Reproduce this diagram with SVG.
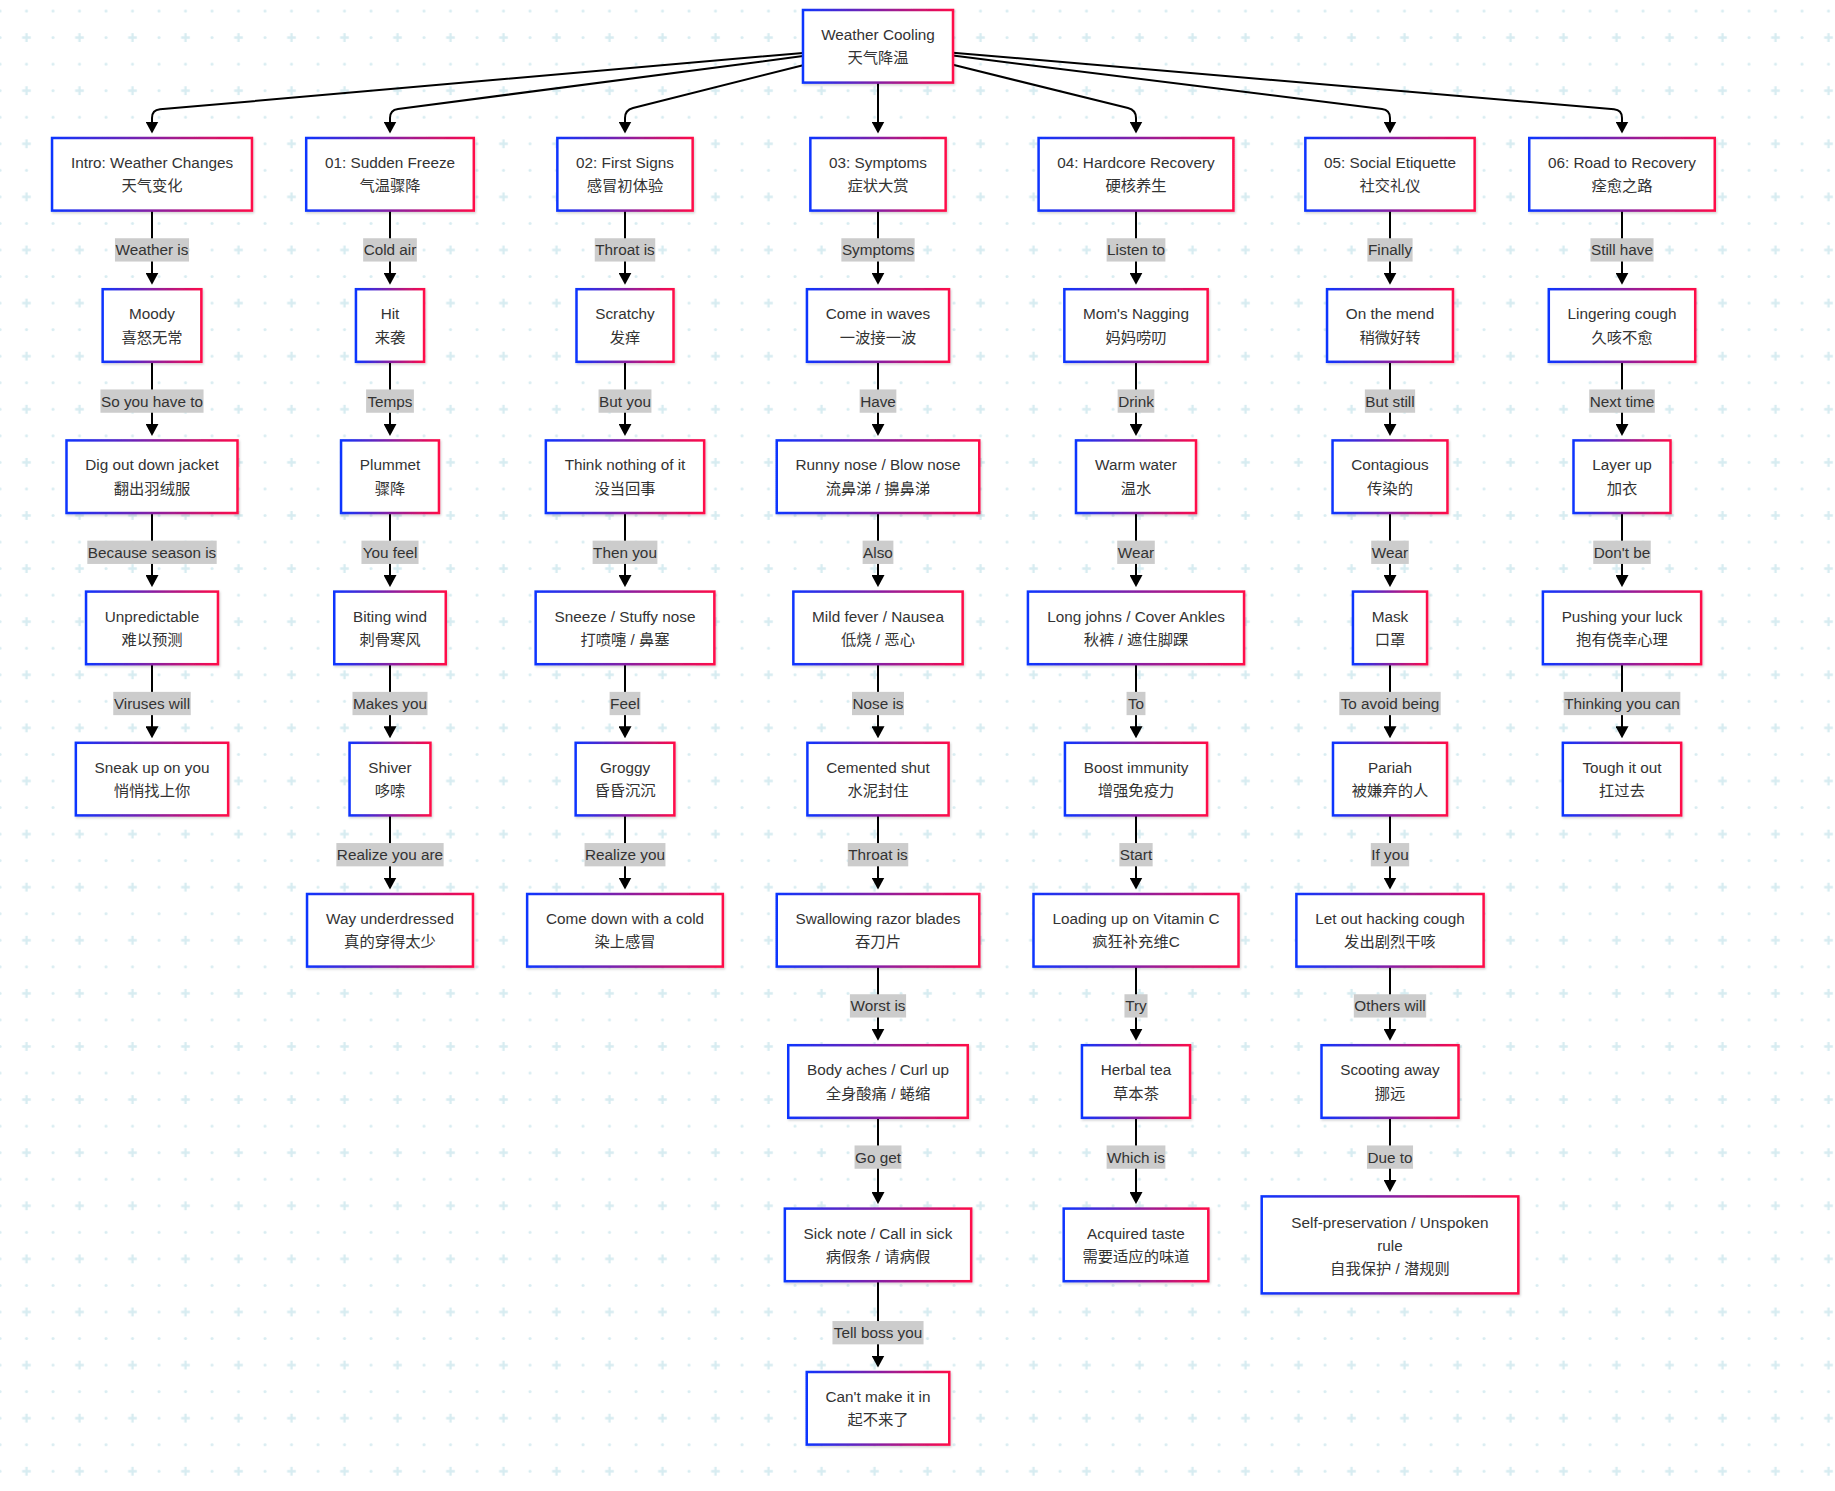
<svg xmlns="http://www.w3.org/2000/svg" width="1835" height="1491" viewBox="0 0 1835 1491">
<defs>
<style>
.n rect{fill:#fff;stroke:url(#g);stroke-width:2.5;filter:url(#sh)}
.n text,.l text{font-family:"Liberation Sans",Arial,"Noto Sans CJK SC",sans-serif;font-size:15.3px;fill:#333;text-anchor:middle}
.l rect{fill:#cccccc}
.e{fill:none;stroke:#000;stroke-width:2;marker-end:url(#a)}
</style>
<linearGradient id="g" x1="0" y1="0" x2="1" y2="0"><stop offset="0" stop-color="#0d35ff"/><stop offset="1" stop-color="#ff0a48"/></linearGradient>
<filter id="sh" x="-10%" y="-10%" width="125%" height="140%"><feDropShadow dx="1" dy="1.5" stdDeviation="1.2" flood-color="#000" flood-opacity="0.18"/></filter>
<marker id="a" viewBox="0 0 10 10" refX="8.33" refY="5" markerWidth="12" markerHeight="13" markerUnits="userSpaceOnUse" orient="auto" preserveAspectRatio="none"><path d="M0,0L10,5L0,10z" fill="#000"/></marker>
<pattern id="bg" patternUnits="userSpaceOnUse" x="-13.25" y="-2.25" width="53" height="53.1">
<g fill="#d7ecf1"><circle cx="13.25" cy="13.25" r="1.5"/><circle cx="39.75" cy="13.25" r="1.5"/><circle cx="13.25" cy="39.8" r="1.5"/></g>
<path d="M35.4,39.8H44.1M39.75,35.45V44.15" stroke="#d7ecf1" stroke-width="2.3"/>
</pattern>
</defs>
<rect width="1835" height="1491" fill="#fff"/>
<rect width="1835" height="1491" fill="url(#bg)"/>

<g id="connectors">
<path class="e" d="M803,52.9L160,109.3Q152,110 152,118L152,131.5"/>
<path class="e" d="M803,56.1L398,109Q390,110 390,118L390,131.5"/>
<path class="e" d="M803,65.2L633,108Q625,110 625,118L625,131.5"/>
<path class="e" d="M878,82.6L878,131.5"/>
<path class="e" d="M953,64.8L1128,108Q1136,110 1136,118L1136,131.5"/>
<path class="e" d="M953,55.6L1382,109Q1390,110 1390,118L1390,131.5"/>
<path class="e" d="M953,52.7L1614,109.3Q1622,110 1622,118L1622,131.5"/>

<path class="e" d="M152,210.6V282.7"/>
<path class="e" d="M152,361.8V433.9"/>
<path class="e" d="M152,513V585.1"/>
<path class="e" d="M152,664.2V736.3"/>

<path class="e" d="M390,210.6V282.7"/>
<path class="e" d="M390,361.8V433.9"/>
<path class="e" d="M390,513V585.1"/>
<path class="e" d="M390,664.2V736.3"/>
<path class="e" d="M390,815.4V887.5"/>

<path class="e" d="M625,210.6V282.7"/>
<path class="e" d="M625,361.8V433.9"/>
<path class="e" d="M625,513V585.1"/>
<path class="e" d="M625,664.2V736.3"/>
<path class="e" d="M625,815.4V887.5"/>

<path class="e" d="M878,210.6V282.7"/>
<path class="e" d="M878,361.8V433.9"/>
<path class="e" d="M878,513V585.1"/>
<path class="e" d="M878,664.2V736.3"/>
<path class="e" d="M878,815.4V887.5"/>
<path class="e" d="M878,966.6V1038.7"/>
<path class="e" d="M878,1117.8V1202.1"/>
<path class="e" d="M878,1281.2V1365.5"/>

<path class="e" d="M1136,210.6V282.7"/>
<path class="e" d="M1136,361.8V433.9"/>
<path class="e" d="M1136,513V585.1"/>
<path class="e" d="M1136,664.2V736.3"/>
<path class="e" d="M1136,815.4V887.5"/>
<path class="e" d="M1136,966.6V1038.7"/>
<path class="e" d="M1136,1117.8V1202.1"/>

<path class="e" d="M1390,210.6V282.7"/>
<path class="e" d="M1390,361.8V433.9"/>
<path class="e" d="M1390,513V585.1"/>
<path class="e" d="M1390,664.2V736.3"/>
<path class="e" d="M1390,815.4V887.5"/>
<path class="e" d="M1390,966.6V1038.7"/>
<path class="e" d="M1390,1117.8V1189.9"/>

<path class="e" d="M1622,210.6V282.7"/>
<path class="e" d="M1622,361.8V433.9"/>
<path class="e" d="M1622,513V585.1"/>
<path class="e" d="M1622,664.2V736.3"/>

<g class="l"><rect x="114.95" y="238.25" width="74.1" height="23.3"/><text x="152" y="255.3">Weather is</text></g>
<g class="l"><rect x="100.45" y="389.45" width="103.1" height="23.3"/><text x="152" y="406.5">So you have to</text></g>
<g class="l"><rect x="87.3" y="540.65" width="129.4" height="23.3"/><text x="152" y="557.7">Because season is</text></g>
<g class="l"><rect x="113.25" y="691.85" width="77.5" height="23.3"/><text x="152" y="708.9">Viruses will</text></g>

<g class="l"><rect x="363.15" y="238.25" width="53.7" height="23.3"/><text x="390" y="255.3">Cold air</text></g>
<g class="l"><rect x="366.1" y="389.45" width="47.8" height="23.3"/><text x="390" y="406.5">Temps</text></g>
<g class="l"><rect x="361.45" y="540.65" width="57.1" height="23.3"/><text x="390" y="557.7">You feel</text></g>
<g class="l"><rect x="352.5" y="691.85" width="75" height="23.3"/><text x="390" y="708.9">Makes you</text></g>
<g class="l"><rect x="336.35" y="843.05" width="107.3" height="23.3"/><text x="390" y="860.1">Realize you are</text></g>

<g class="l"><rect x="594.75" y="238.25" width="60.5" height="23.3"/><text x="625" y="255.3">Throat is</text></g>
<g class="l"><rect x="598.55" y="389.45" width="52.9" height="23.3"/><text x="625" y="406.5">But you</text></g>
<g class="l"><rect x="592.6" y="540.65" width="64.8" height="23.3"/><text x="625" y="557.7">Then you</text></g>
<g class="l"><rect x="609.6" y="691.85" width="30.8" height="23.3"/><text x="625" y="708.9">Feel</text></g>
<g class="l"><rect x="584.55" y="843.05" width="80.9" height="23.3"/><text x="625" y="860.1">Realize you</text></g>

<g class="l"><rect x="841.35" y="238.25" width="73.3" height="23.3"/><text x="878" y="255.3">Symptoms</text></g>
<g class="l"><rect x="859.65" y="389.45" width="36.7" height="23.3"/><text x="878" y="406.5">Have</text></g>
<g class="l"><rect x="862.6" y="540.65" width="30.8" height="23.3"/><text x="878" y="557.7">Also</text></g>
<g class="l"><rect x="852" y="691.85" width="52" height="23.3"/><text x="878" y="708.9">Nose is</text></g>
<g class="l"><rect x="847.75" y="843.05" width="60.5" height="23.3"/><text x="878" y="860.1">Throat is</text></g>
<g class="l"><rect x="849.9" y="994.25" width="56.2" height="23.3"/><text x="878" y="1011.3">Worst is</text></g>
<g class="l"><rect x="854.55" y="1145.45" width="46.9" height="23.3"/><text x="878" y="1162.5">Go get</text></g>
<g class="l"><rect x="832.45" y="1321.05" width="91.1" height="23.3"/><text x="878" y="1338.1">Tell boss you</text></g>

<g class="l"><rect x="1106.6" y="238.25" width="58.8" height="23.3"/><text x="1136" y="255.3">Listen to</text></g>
<g class="l"><rect x="1117.65" y="389.45" width="36.7" height="23.3"/><text x="1136" y="406.5">Drink</text></g>
<g class="l"><rect x="1117.2" y="540.65" width="37.6" height="23.3"/><text x="1136" y="557.7">Wear</text></g>
<g class="l"><rect x="1126.55" y="691.85" width="18.9" height="23.3"/><text x="1136" y="708.9">To</text></g>
<g class="l"><rect x="1119.35" y="843.05" width="33.3" height="23.3"/><text x="1136" y="860.1">Start</text></g>
<g class="l"><rect x="1124.45" y="994.25" width="23.1" height="23.3"/><text x="1136" y="1011.3">Try</text></g>
<g class="l"><rect x="1106.6" y="1145.45" width="58.8" height="23.3"/><text x="1136" y="1162.5">Which is</text></g>

<g class="l"><rect x="1367.4" y="238.25" width="45.2" height="23.3"/><text x="1390" y="255.3">Finally</text></g>
<g class="l"><rect x="1364.85" y="389.45" width="50.3" height="23.3"/><text x="1390" y="406.5">But still</text></g>
<g class="l"><rect x="1371.2" y="540.65" width="37.6" height="23.3"/><text x="1390" y="557.7">Wear</text></g>
<g class="l"><rect x="1339.3" y="691.85" width="101.4" height="23.3"/><text x="1390" y="708.9">To avoid being</text></g>
<g class="l"><rect x="1370.8" y="843.05" width="38.4" height="23.3"/><text x="1390" y="860.1">If you</text></g>
<g class="l"><rect x="1353.8" y="994.25" width="72.4" height="23.3"/><text x="1390" y="1011.3">Others will</text></g>
<g class="l"><rect x="1366.95" y="1145.45" width="46.1" height="23.3"/><text x="1390" y="1162.5">Due to</text></g>

<g class="l"><rect x="1590.45" y="238.25" width="63.1" height="23.3"/><text x="1622" y="255.3">Still have</text></g>
<g class="l"><rect x="1589.2" y="389.45" width="65.6" height="23.3"/><text x="1622" y="406.5">Next time</text></g>
<g class="l"><rect x="1593.25" y="540.65" width="57.5" height="23.3"/><text x="1622" y="557.7">Don't be</text></g>
<g class="l"><rect x="1563.65" y="691.85" width="116.7" height="23.3"/><text x="1622" y="708.9">Thinking you can</text></g>
</g>

<g id="n_root" class="n"><rect x="803" y="10" width="150" height="72.6"/><text x="878" y="39.9">Weather Cooling</text><text x="878" y="63.3">天气降温</text></g>

<g id="n_intro" class="n"><rect x="52.05" y="138" width="199.9" height="72.6"/><text x="152" y="167.9">Intro: Weather Changes</text><text x="152" y="191.3">天气变化</text></g>
<g id="n_moody" class="n"><rect x="102.65" y="289.2" width="98.7" height="72.6"/><text x="152" y="319.1">Moody</text><text x="152" y="342.5">喜怒无常</text></g>
<g id="n_dig" class="n"><rect x="66.5" y="440.4" width="171" height="72.6"/><text x="152" y="470.3">Dig out down jacket</text><text x="152" y="493.7">翻出羽绒服</text></g>
<g id="n_unpred" class="n"><rect x="86.05" y="591.6" width="131.9" height="72.6"/><text x="152" y="621.5">Unpredictable</text><text x="152" y="644.9">难以预测</text></g>
<g id="n_sneak" class="n"><rect x="75.85" y="742.8" width="152.3" height="72.6"/><text x="152" y="772.7">Sneak up on you</text><text x="152" y="796.1">悄悄找上你</text></g>

<g id="n_freeze" class="n"><rect x="306.2" y="138" width="167.6" height="72.6"/><text x="390" y="167.9">01: Sudden Freeze</text><text x="390" y="191.3">气温骤降</text></g>
<g id="n_hit" class="n"><rect x="355.95" y="289.2" width="68.1" height="72.6"/><text x="390" y="319.1">Hit</text><text x="390" y="342.5">来袭</text></g>
<g id="n_plummet" class="n"><rect x="341.05" y="440.4" width="97.9" height="72.6"/><text x="390" y="470.3">Plummet</text><text x="390" y="493.7">骤降</text></g>
<g id="n_biting" class="n"><rect x="334.25" y="591.6" width="111.5" height="72.6"/><text x="390" y="621.5">Biting wind</text><text x="390" y="644.9">刺骨寒风</text></g>
<g id="n_shiver" class="n"><rect x="349.55" y="742.8" width="80.9" height="72.6"/><text x="390" y="772.7">Shiver</text><text x="390" y="796.1">哆嗦</text></g>
<g id="n_under" class="n"><rect x="307.05" y="894" width="165.9" height="72.6"/><text x="390" y="923.9">Way underdressed</text><text x="390" y="947.3">真的穿得太少</text></g>

<g id="n_signs" class="n"><rect x="557.35" y="138" width="135.3" height="72.6"/><text x="625" y="167.9">02: First Signs</text><text x="625" y="191.3">感冒初体验</text></g>
<g id="n_scratchy" class="n"><rect x="576.5" y="289.2" width="97" height="72.6"/><text x="625" y="319.1">Scratchy</text><text x="625" y="342.5">发痒</text></g>
<g id="n_think" class="n"><rect x="545.85" y="440.4" width="158.3" height="72.6"/><text x="625" y="470.3">Think nothing of it</text><text x="625" y="493.7">没当回事</text></g>
<g id="n_sneeze" class="n"><rect x="535.65" y="591.6" width="178.7" height="72.6"/><text x="625" y="621.5">Sneeze / Stuffy nose</text><text x="625" y="644.9">打喷嚏 / 鼻塞</text></g>
<g id="n_groggy" class="n"><rect x="575.65" y="742.8" width="98.7" height="72.6"/><text x="625" y="772.7">Groggy</text><text x="625" y="796.1">昏昏沉沉</text></g>
<g id="n_cold" class="n"><rect x="527.15" y="894" width="195.7" height="72.6"/><text x="625" y="923.9">Come down with a cold</text><text x="625" y="947.3">染上感冒</text></g>

<g id="n_symptoms" class="n"><rect x="810.35" y="138" width="135.3" height="72.6"/><text x="878" y="167.9">03: Symptoms</text><text x="878" y="191.3">症状大赏</text></g>
<g id="n_waves" class="n"><rect x="806.95" y="289.2" width="142.1" height="72.6"/><text x="878" y="319.1">Come in waves</text><text x="878" y="342.5">一波接一波</text></g>
<g id="n_runny" class="n"><rect x="776.75" y="440.4" width="202.5" height="72.6"/><text x="878" y="470.3">Runny nose / Blow nose</text><text x="878" y="493.7">流鼻涕 / 擤鼻涕</text></g>
<g id="n_fever" class="n"><rect x="793.35" y="591.6" width="169.3" height="72.6"/><text x="878" y="621.5">Mild fever / Nausea</text><text x="878" y="644.9">低烧 / 恶心</text></g>
<g id="n_cemented" class="n"><rect x="807.4" y="742.8" width="141.2" height="72.6"/><text x="878" y="772.7">Cemented shut</text><text x="878" y="796.1">水泥封住</text></g>
<g id="n_razor" class="n"><rect x="776.75" y="894" width="202.5" height="72.6"/><text x="878" y="923.9">Swallowing razor blades</text><text x="878" y="947.3">吞刀片</text></g>
<g id="n_aches" class="n"><rect x="788.25" y="1045.2" width="179.5" height="72.6"/><text x="878" y="1075.1">Body aches / Curl up</text><text x="878" y="1098.5">全身酸痛 / 蜷缩</text></g>
<g id="n_sicknote" class="n"><rect x="784.85" y="1208.6" width="186.3" height="72.6"/><text x="878" y="1238.5">Sick note / Call in sick</text><text x="878" y="1261.9">病假条 / 请病假</text></g>
<g id="n_cant" class="n"><rect x="806.75" y="1372" width="142.5" height="72.6"/><text x="878" y="1401.9">Can't make it in</text><text x="878" y="1425.3">起不来了</text></g>

<g id="n_hardcore" class="n"><rect x="1038.6" y="138" width="194.8" height="72.6"/><text x="1136" y="167.9">04: Hardcore Recovery</text><text x="1136" y="191.3">硬核养生</text></g>
<g id="n_mom" class="n"><rect x="1064.35" y="289.2" width="143.3" height="72.6"/><text x="1136" y="319.1">Mom's Nagging</text><text x="1136" y="342.5">妈妈唠叨</text></g>
<g id="n_water" class="n"><rect x="1076" y="440.4" width="120" height="72.6"/><text x="1136" y="470.3">Warm water</text><text x="1136" y="493.7">温水</text></g>
<g id="n_johns" class="n"><rect x="1027.95" y="591.6" width="216.1" height="72.6"/><text x="1136" y="621.5">Long johns / Cover Ankles</text><text x="1136" y="644.9">秋裤 / 遮住脚踝</text></g>
<g id="n_immunity" class="n"><rect x="1064.95" y="742.8" width="142.1" height="72.6"/><text x="1136" y="772.7">Boost immunity</text><text x="1136" y="796.1">增强免疫力</text></g>
<g id="n_vitc" class="n"><rect x="1033.5" y="894" width="205" height="72.6"/><text x="1136" y="923.9">Loading up on Vitamin C</text><text x="1136" y="947.3">疯狂补充维C</text></g>
<g id="n_tea" class="n"><rect x="1081.95" y="1045.2" width="108.1" height="72.6"/><text x="1136" y="1075.1">Herbal tea</text><text x="1136" y="1098.5">草本茶</text></g>
<g id="n_taste" class="n"><rect x="1063.7" y="1208.6" width="144.6" height="72.6"/><text x="1136" y="1238.5">Acquired taste</text><text x="1136" y="1261.9">需要适应的味道</text></g>

<g id="n_social" class="n"><rect x="1305.35" y="138" width="169.3" height="72.6"/><text x="1390" y="167.9">05: Social Etiquette</text><text x="1390" y="191.3">社交礼仪</text></g>
<g id="n_mend" class="n"><rect x="1327.05" y="289.2" width="125.9" height="72.6"/><text x="1390" y="319.1">On the mend</text><text x="1390" y="342.5">稍微好转</text></g>
<g id="n_contag" class="n"><rect x="1332.55" y="440.4" width="114.9" height="72.6"/><text x="1390" y="470.3">Contagious</text><text x="1390" y="493.7">传染的</text></g>
<g id="n_mask" class="n"><rect x="1352.95" y="591.6" width="74.1" height="72.6"/><text x="1390" y="621.5">Mask</text><text x="1390" y="644.9">口罩</text></g>
<g id="n_pariah" class="n"><rect x="1333" y="742.8" width="114" height="72.6"/><text x="1390" y="772.7">Pariah</text><text x="1390" y="796.1">被嫌弃的人</text></g>
<g id="n_hacking" class="n"><rect x="1296.4" y="894" width="187.2" height="72.6"/><text x="1390" y="923.9">Let out hacking cough</text><text x="1390" y="947.3">发出剧烈干咳</text></g>
<g id="n_scoot" class="n"><rect x="1321.5" y="1045.2" width="137" height="72.6"/><text x="1390" y="1075.1">Scooting away</text><text x="1390" y="1098.5">挪远</text></g>
<g id="n_selfp" class="n"><rect x="1261.7" y="1196.4" width="256.6" height="97"/><text x="1390" y="1227.6">Self-preservation / Unspoken</text><text x="1390" y="1250.9">rule</text><text x="1390" y="1274">自我保护 / 潜规则</text></g>

<g id="n_road" class="n"><rect x="1529.25" y="138" width="185.5" height="72.6"/><text x="1622" y="167.9">06: Road to Recovery</text><text x="1622" y="191.3">痊愈之路</text></g>
<g id="n_linger" class="n"><rect x="1548.8" y="289.2" width="146.4" height="72.6"/><text x="1622" y="319.1">Lingering cough</text><text x="1622" y="342.5">久咳不愈</text></g>
<g id="n_layer" class="n"><rect x="1573.5" y="440.4" width="97" height="72.6"/><text x="1622" y="470.3">Layer up</text><text x="1622" y="493.7">加衣</text></g>
<g id="n_pushing" class="n"><rect x="1542.9" y="591.6" width="158.2" height="72.6"/><text x="1622" y="621.5">Pushing your luck</text><text x="1622" y="644.9">抱有侥幸心理</text></g>
<g id="n_tough" class="n"><rect x="1562.85" y="742.8" width="118.3" height="72.6"/><text x="1622" y="772.7">Tough it out</text><text x="1622" y="796.1">扛过去</text></g>
</svg>
